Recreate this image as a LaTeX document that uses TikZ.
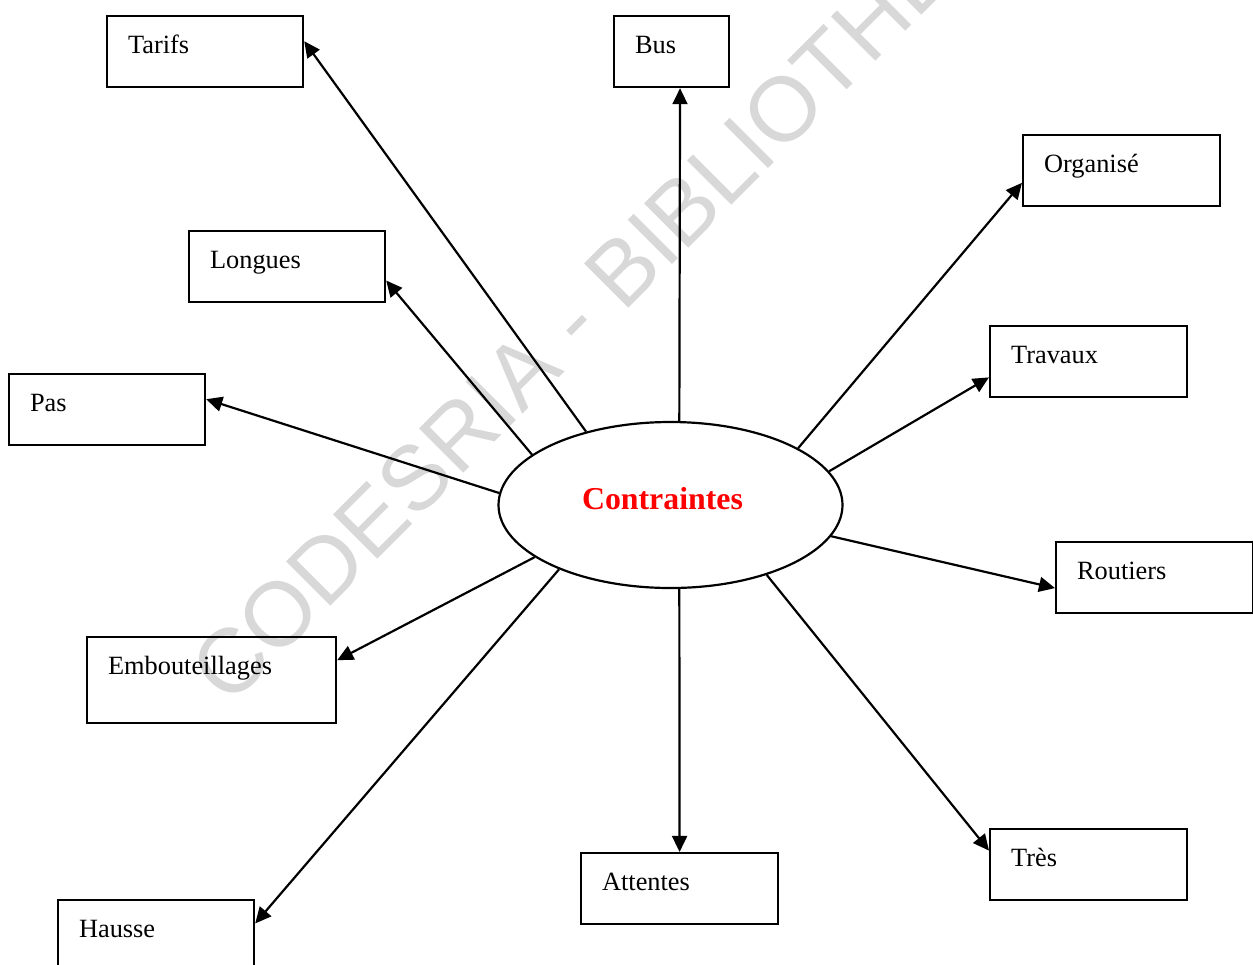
\documentclass[tikz,border=0pt]{standalone}
\usepackage{fontspec}
\setmainfont{Liberation Serif}
\newfontfamily\filigranefont{Liberation Sans}
\usetikzlibrary{shapes.geometric, arrows.meta}

\newdimen\pxu
\pxu=0.016cm
\definecolor{gris}{RGB}{216,216,216}

\begin{document}
\begin{tikzpicture}[
    x=\pxu, y=-\pxu,
    boite/.style={draw, line width=1pt, anchor=north west,
        inner xsep=21\pxu, inner ysep=0pt, align=left,
        text height=37\pxu, text depth=34\pxu,
        font=\fontsize{12}{14}\selectfont},
    centre/.style={ellipse, draw, line width=1pt,
        minimum width=344\pxu, minimum height=166\pxu,
        text=red, text depth=14\pxu,
        font=\fontsize{14.5}{16}\selectfont\bfseries},
    fleche/.style={line width=1pt, -{Triangle[length=7.3pt, width=6.8pt]}},
]
    \useasboundingbox (0,0) rectangle (1253,964);

    % filigrane en fond
    \begin{scope}
        \clip (0,0) rectangle (1253,964);
        \node [text=gris, inner sep=0pt, rotate=45, anchor=base west,
            font=\filigranefont\fontsize{41.5}{41.5}\selectfont]
            (filigrane) at (229,708) {CODESRIA - BIBLIOTHEQUE};
    \end{scope}

    \foreach \nom/\x/\y/\w/\texte in {
        tarifs/106/15/196/Tarifs, bus/613/15/115/Bus,
        organise/1022/134/197/Organisé, longues/188/230/196/Longues,
        travaux/989/325/197/Travaux, pas/8/373/196/Pas,
        routiers/1055/541/197/Routiers, attentes/580/852/197/Attentes,
        tres/989/828/197/Très, hausse/57/899/196/Hausse
    } {
        \node [boite, text width={(\w-42)*\pxu}] (\nom) at (\x,\y) {\texte};
    }
    \node [boite, text width={(249-42)*\pxu}, text depth=49\pxu]
        (embout) at (86,636) {Embouteillages};

    \node [centre] (c) at (670.5,505) {\kern-16\pxu Contraintes};

    \foreach \nom/\a/\b in {
        tarifs/139/6, bus/84/283.5, organise/24/187.5, longues/160/352,
        travaux/12/189, pas/176/6, routiers/349.5/186, embout/201/9,
        attentes/276/90, tres/324.5/172, hausse/210.5/7
    } {
        \draw [fleche] (c.\a) -- (\nom.\b);
    }
\end{tikzpicture}
\end{document}
